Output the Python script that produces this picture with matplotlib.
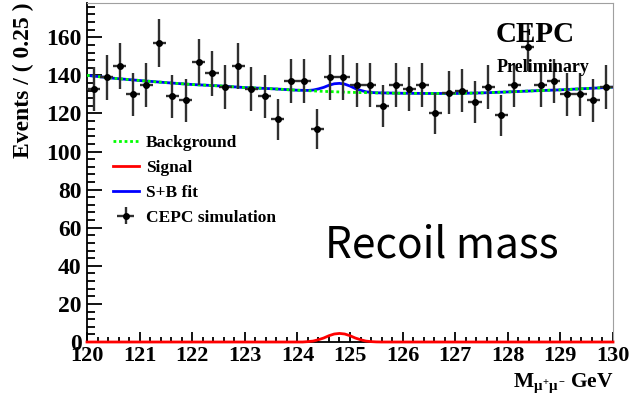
import numpy as np
import matplotlib
matplotlib.use("Agg")
import matplotlib.pyplot as plt
from matplotlib.ticker import MultipleLocator

plt.rcParams['font.family'] = ['Liberation Serif', 'DejaVu Serif']
plt.rcParams['font.weight'] = 'bold'
plt.rcParams['axes.labelweight'] = 'bold'
plt.rcParams['mathtext.fontset'] = 'custom'
plt.rcParams['mathtext.rm'] = 'Liberation Serif:bold'
plt.rcParams['mathtext.it'] = 'Liberation Serif:bold'

# CEPC simulation: events per 0.25 GeV bin, 120 - 130 GeV
counts = [133, 139, 145, 130, 135, 157, 129, 127, 147, 141,
          134, 145, 133, 129, 117, 137, 137, 112, 139, 139,
          135, 135, 124, 135, 133, 135, 120, 131, 132, 126,
          134, 119, 135, 155, 135, 137, 130, 130, 127, 134]

# background fit, read every 0.5 GeV
bkg_x = [120.0, 120.5, 121.0, 121.5, 122.0, 122.5, 123.0, 123.5, 124.0, 124.5,
         125.0, 125.5, 126.0, 126.5, 127.0, 127.5, 128.0, 128.5, 129.0, 129.5, 130.0]
bkg_y = [140.0, 138.5, 137.3, 136.2, 135.2, 134.5, 133.6, 133.0, 132.2, 131.6,
         131.1, 130.8, 130.6, 130.5, 130.5, 130.8, 131.3, 131.9, 132.4, 133.1, 133.8]

# signal shape
sig_x = [120.0, 124.1, 124.2, 124.3, 124.4, 124.5, 124.6, 124.7, 124.8, 124.9,
         125.0, 125.1, 125.2, 125.3, 125.4, 125.5, 125.6, 130.0]
sig_y = [0.0, 0.0, 0.2, 0.5, 1.2, 2.1, 3.3, 4.2, 4.5, 4.2,
         3.3, 2.1, 1.2, 0.5, 0.2, 0.05, 0.0, 0.0]

# S+B fit in the peak region
sb_x = [124.2, 124.3, 124.4, 124.5, 124.6, 124.7, 124.8, 124.9,
        125.0, 125.1, 125.2, 125.3, 125.4, 125.5]
sb_y = [132.1, 132.3, 132.9, 133.7, 134.8, 135.6, 135.8, 135.4,
        134.4, 133.1, 132.15, 131.4, 131.05, 130.85]

edges = np.arange(120.0, 130.001, 0.25)
centers = 0.5 * (edges[:-1] + edges[1:])
counts = np.array(counts)

# blue curve: background outside the peak, S+B inside
blue_x = [x for x in bkg_x if x < sb_x[0]] + sb_x + [x for x in bkg_x if x > sb_x[-1]]
blue_y = [y for x, y in zip(bkg_x, bkg_y) if x < sb_x[0]] + sb_y + \
         [y for x, y in zip(bkg_x, bkg_y) if x > sb_x[-1]]

fig = plt.figure(figsize=(6.41, 3.97), dpi=100)
ax = fig.add_axes([87 / 641, 55 / 397, 526 / 641, 339 / 397])

sb_line, = ax.plot(blue_x, blue_y, color='#0000ff', lw=2, zorder=3)
bkg_line, = ax.plot(bkg_x, bkg_y, color='#00ff00', lw=2, ls=(0, (1, 1)), zorder=4)
sig_line, = ax.plot(sig_x, sig_y, color='#ff0000', lw=2, zorder=5, clip_on=False)
data = ax.errorbar(centers, counts, yerr=np.sqrt(counts), xerr=0.125, fmt='o', ms=4,
                   color='black', ecolor='#303030', elinewidth=1.7, capsize=0, zorder=6)

ax.set_xlim(120, 130)
ax.set_ylim(0, 178)

ax.xaxis.set_major_locator(MultipleLocator(1))
ax.xaxis.set_minor_locator(MultipleLocator(0.2))
ax.yaxis.set_major_locator(MultipleLocator(20))
ax.yaxis.set_minor_locator(MultipleLocator(4))
ax.tick_params(axis='y', which='major', direction='in', length=11, width=1.3, labelsize=17, pad=4)
ax.tick_params(axis='y', which='minor', direction='in', length=5.5, width=1.3)
ax.tick_params(axis='x', which='major', direction='in', length=7.5, width=1.3, labelsize=16, pad=3)
ax.tick_params(axis='x', which='minor', direction='in', length=3.8, width=1.3)
for side in ['top', 'right']:
    ax.spines[side].set_color('#a0a0a0')
for side in ['left', 'bottom']:
    ax.spines[side].set_linewidth(1.3)

ax.set_ylabel('Events / ( 0.25 )', fontsize=17, loc='top')
ax.yaxis.set_label_coords(-0.1, 1.0)

fig.text(614 / 641, 1 - 383 / 397, r'$\mathrm{M}_{\mu^{+}\mu^{-}}$ GeV', fontsize=15.5,
         ha='right', va='center')

ax.legend([bkg_line, sig_line, sb_line, data],
          ['Background', 'Signal', 'S+B fit', 'CEPC simulation'],
          loc='upper left', bbox_to_anchor=(0.049, 0.61), frameon=False,
          borderpad=0, borderaxespad=0, handlelength=1.5, handletextpad=0.4,
          labelspacing=0.5, prop=dict(family='Liberation Serif', weight='bold', size=12.5))

fig.text(496 / 641, 1 - 35 / 397, 'CEPC', fontsize=21, ha='left', va='center')
fig.text(497 / 641, 1 - 67 / 397, 'Preliminary', fontsize=13, ha='left', va='center')
fig.text(325 / 641, 1 - 245 / 397, 'Recoil mass', fontsize=30.5, ha='left', va='center',
         family=['Noto Sans CJK SC', 'DejaVu Sans'], fontweight='light')

fig.savefig('out.png', dpi=100)
